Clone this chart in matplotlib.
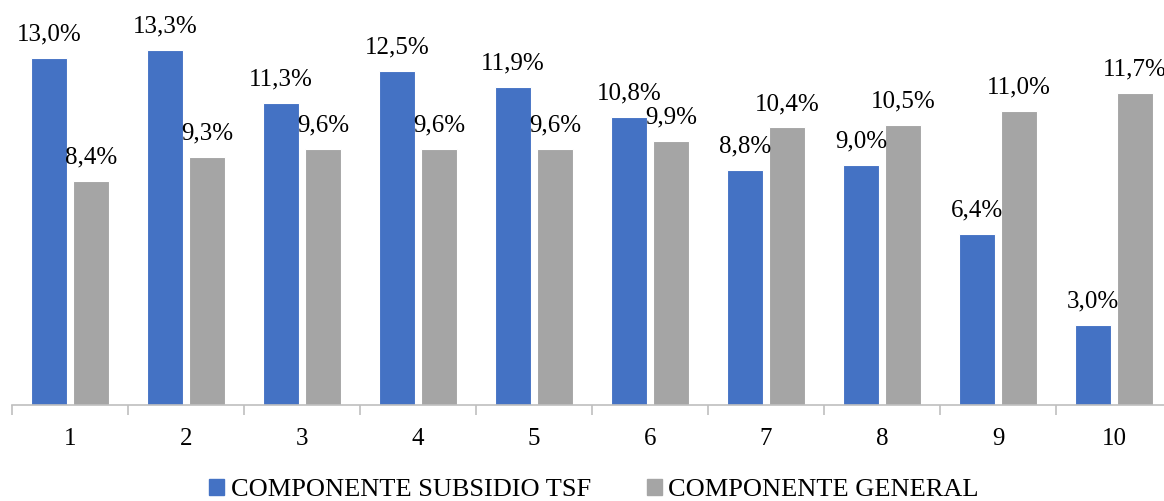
import matplotlib
matplotlib.use("Agg")
import matplotlib.pyplot as plt
from matplotlib.patches import Patch
import numpy as np

categories = ["1", "2", "3", "4", "5", "6", "7", "8", "9", "10"]
subsidio_tsf = [13.0, 13.3, 11.3, 12.5, 11.9, 10.8, 8.8, 9.0, 6.4, 3.0]
general = [8.4, 9.3, 9.6, 9.6, 9.6, 9.9, 10.4, 10.5, 11.0, 11.7]
series_names = ["COMPONENTE SUBSIDIO TSF", "COMPONENTE GENERAL"]

BLUE = "#4472C4"
GRAY = "#A5A5A5"
AXIS = "#BFBFBF"

plt.rcParams["font.family"] = ["Liberation Serif", "DejaVu Serif"]

W, H = 1164, 501
fig = plt.figure(figsize=(W / 100, H / 100), dpi=100)

# axes spans one full category per tick interval; right end runs past the canvas
x0, x1 = 12, 1172
y_base, y_top = 405, 405 - 14 * 26.7
ax = fig.add_axes([x0 / W, (H - y_base) / H, (x1 - x0) / W, (y_base - y_top) / H])

x = np.arange(len(categories))
bw = 36 / 116
off = 21 / 116
b1 = ax.bar(x - off, subsidio_tsf, width=bw, color=BLUE, edgecolor="white", linewidth=0.8)
b2 = ax.bar(x + off, general, width=bw, color=GRAY, edgecolor="white", linewidth=0.8)

def fmt(v):
    return f"{v:.1f}%".replace(".", ",")

for bars, vals in ((b1, subsidio_tsf), (b2, general)):
    for rect, v in zip(bars, vals):
        ax.annotate(fmt(v), (rect.get_x() + rect.get_width() / 2, v),
                    xytext=(0, 12.5), textcoords="offset points",
                    ha="center", va="baseline", fontsize=18, color="#000000",
                    annotation_clip=False)

ax.set_xlim(-0.5, len(categories) - 0.5)
ax.set_ylim(0, 14)
ax.set_yticks([])
ax.set_xticks(x)
ax.set_xticklabels(categories, fontsize=18)
ax.set_xticks(np.arange(len(categories) + 1) - 0.5, minor=True)
ax.tick_params(axis="x", which="major", length=0, pad=16.5)
ax.tick_params(axis="x", which="minor", length=7, color=AXIS, width=1.2)
for side in ("top", "right", "left"):
    ax.spines[side].set_visible(False)
ax.spines["bottom"].set_color(AXIS)
ax.spines["bottom"].set_linewidth(1.2)

handles = [Patch(color=BLUE), Patch(color=GRAY)]
fig.legend(handles, series_names, loc="center", bbox_to_anchor=(594 / W, 1 - 490 / H),
           ncol=2, frameon=False, fontsize=19, handlelength=0.57, handleheight=0.57,
           handletextpad=0.25, columnspacing=2.1, borderpad=0, borderaxespad=0)

fig.savefig("out.png", dpi=100)
